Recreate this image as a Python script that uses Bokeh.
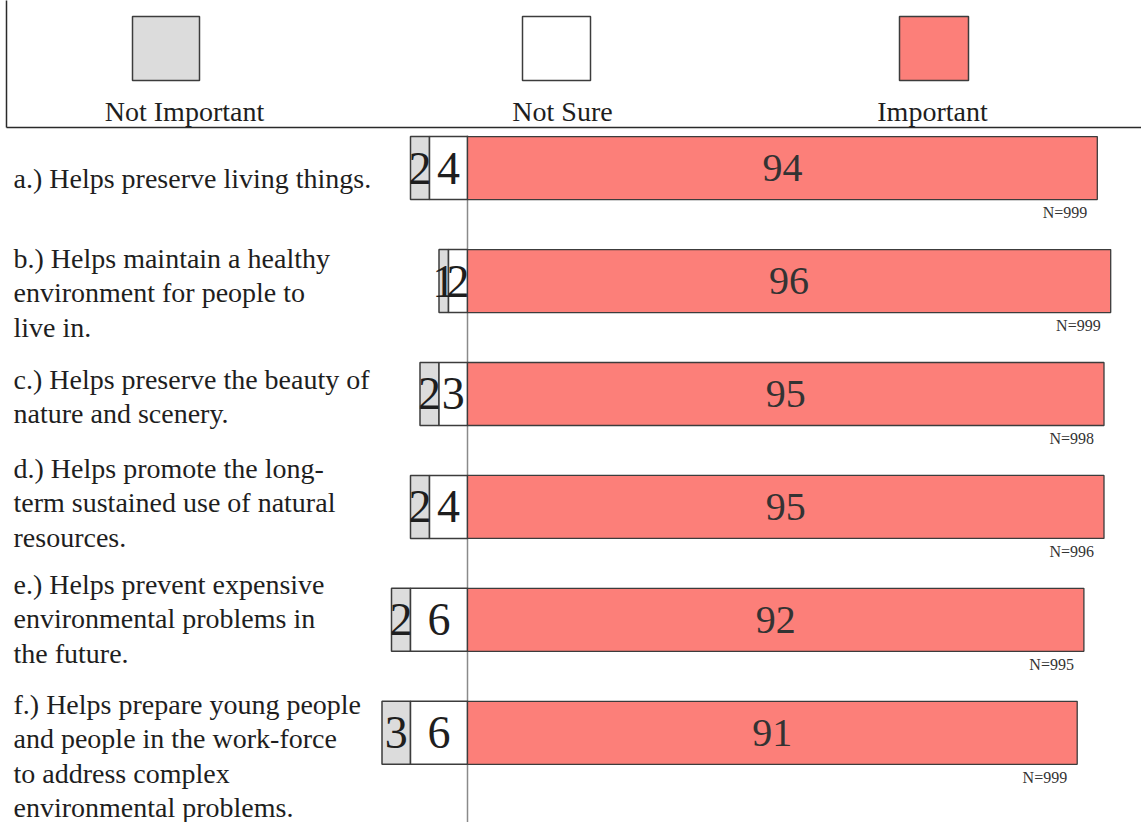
from bokeh.plotting import figure
from bokeh.models import Range1d, ColumnDataSource
from bokeh.core.properties import value
from bokeh.embed import file_html
from bokeh.resources import INLINE

# ---------------- data ----------------
label_lines = [
    ["a.) Helps preserve living things."],
    ["b.) Helps maintain a healthy", "environment for people to", "live in."],
    ["c.) Helps preserve the beauty of", "nature and scenery."],
    ["d.) Helps promote the long-", "term sustained use of natural", "resources."],
    ["e.) Helps prevent expensive", "environmental problems in", "the future."],
    ["f.) Helps prepare young people", "and  people in the work-force",
     "to address complex", "environmental problems."],
]
not_important = [2, 1, 2, 2, 2, 3]
not_sure = [4, 2, 3, 4, 6, 6]
important = [94, 96, 95, 95, 92, 91]
n_resp = [999, 999, 998, 996, 995, 999]
legend_labels = ["Not Important", "Not Sure", "Important"]

# ---------------- style / layout ----------------
FONT = value("Liberation Serif")
GRAY = "#dcdcdc"
WHITE = "#ffffff"
RED = "#fc7f79"
EDGE = "#3c3c3c"
TXT = "#1e1e1e"

W, H = 1141, 822
X0 = 467.0          # pixel of the zero line
SX = 6.7            # px per percent (Important scale)
SL = 9.5            # px per percent (left-hand scale)
PY = 112.94         # px per row
TOP = -167.6 / PY   # data value at the top of the frame
BL = -9.0           # baseline correction for 28px alphabetic texts (px)
BL_N = -4.0         # baseline correction for 16px alphabetic texts (px)


def xv(X):
    return (X - X0) / SX


def yv(Y):
    return TOP + Y / PY


p = figure(width=W, height=H, output_backend="svg", toolbar_location=None,
           x_range=Range1d(-X0 / SX, (W - X0) / SX),
           y_range=Range1d(TOP + H / PY, TOP),
           x_axis_location=None, y_axis_location=None, min_border=0)
p.extra_x_ranges = {"left": Range1d(-X0 / SL, (W - X0) / SL)}
p.grid.visible = False
p.outline_line_color = None
p.background_fill_color = "white"
p.border_fill_color = "white"

rows = list(range(len(important)))
BAR_H = 63 / PY

# legend frame lines
p.segment(x0=[xv(6), xv(6)], y0=[yv(-5), yv(127)], x1=[xv(6), xv(1141)],
          y1=[yv(127), yv(127)], line_color="#2a2a2a", line_width=1.5)

# legend swatches & labels
sw_left = [132, 522, 899]
sw_w = [67, 68, 69]
lab_cx = [184, 562, 932]
p.quad(left=[xv(a) for a in sw_left], right=[xv(a + w) for a, w in zip(sw_left, sw_w)],
       top=[yv(16)] * 3, bottom=[yv(80)] * 3,
       fill_color=[GRAY, WHITE, RED], line_color=EDGE, line_width=1.5)
p.text(x=[xv(c) for c in lab_cx], y=[yv(120 + BL)] * 3, text=legend_labels,
       text_font=FONT, text_font_size="28px", text_align="center",
       text_baseline="alphabetic", text_color=TXT)

# zero line
p.segment(x0=[0], y0=[yv(135)], x1=[0], y1=[yv(830)], line_color="#8a8a8a", line_width=1.5)

# left-hand stacked bars (own scale)
ni_left = [-(a + b) for a, b in zip(not_important, not_sure)]
ns_left = [-b for b in not_sure]
src = ColumnDataSource(dict(y=rows, ni_l=ni_left, ni_r=ns_left, ns_l=ns_left,
                            zero=[0] * len(rows), imp=important,
                            ni_c=[-(b + a / 2) for a, b in zip(not_important, not_sure)],
                            ns_c=[-b / 2 for b in not_sure],
                            imp_c=[v / 2 for v in important],
                            ni_t=[str(v) for v in not_important],
                            ns_t=[str(v) for v in not_sure],
                            imp_t=[str(v) for v in important],
                            n_t=["N=%d" % v for v in n_resp],
                            n_y=[r + (48.5 + BL_N) / PY for r in rows]))
p.hbar(y="y", left="ni_l", right="ni_r", height=BAR_H, source=src, x_range_name="left",
       fill_color=GRAY, line_color=EDGE, line_width=1.5)
p.hbar(y="y", left="ns_l", right="zero", height=BAR_H, source=src, x_range_name="left",
       fill_color=WHITE, line_color=EDGE, line_width=1.5)
p.text(x="ni_c", y="y", text="ni_t", source=src, x_range_name="left", text_font=FONT,
       text_font_size="46px", text_align="center", text_baseline="middle", text_color=TXT)
p.text(x="ns_c", y="y", text="ns_t", source=src, x_range_name="left", text_font=FONT,
       text_font_size="46px", text_align="center", text_baseline="middle", text_color=TXT)

# Important bars
p.hbar(y="y", left="zero", right="imp", height=BAR_H, source=src,
       fill_color=RED, line_color=EDGE, line_width=1.3)
p.text(x="imp_c", y="y", text="imp_t", source=src, text_font=FONT,
       text_font_size="40px", text_align="center", text_baseline="middle", text_color="#333333")
p.text(x="imp", y="n_y", text="n_t", source=src, x_offset=-10, text_font=FONT,
       text_font_size="16px", text_align="right", text_baseline="alphabetic", text_color="#333333")

# item labels (first-line baseline offset per row, px)
LABEL_DY = [19.4, -13.6, -5.5, -29.5, -26.4, -19.4]
LINE = 34.5
lx, ly, lt = [], [], []
for i, lines in enumerate(label_lines):
    for k, t in enumerate(lines):
        lx.append(xv(13))
        ly.append(i + (LABEL_DY[i] + k * LINE + BL) / PY)
        lt.append(t)
p.text(x=lx, y=ly, text=lt, text_font=FONT, text_font_size="28px",
       text_align="left", text_baseline="alphabetic", text_color=TXT)

open("out.html", "w").write(file_html(p, INLINE))
